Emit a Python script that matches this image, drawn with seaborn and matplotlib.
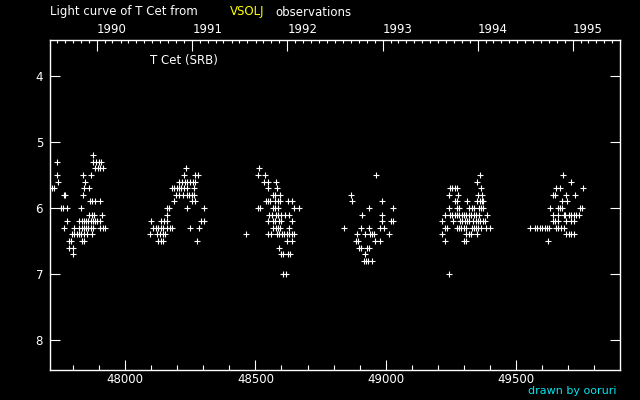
import numpy as np
import pandas as pd
import matplotlib
matplotlib.use("Agg")
import matplotlib.pyplot as plt
from matplotlib.ticker import MultipleLocator, FixedLocator
import seaborn as sns

# visual estimates: JD-2400000 and visual magnitude, one pair of lists per season
s1_jd = [47878,
         47740, 47878, 47889, 47899, 47909,
         47885, 47895, 47905, 47915,
         47740, 47840, 47871,
         47744, 47848,
         47718, 47727, 47844, 47863,
         47766, 47771, 47840,
         47864, 47874, 47884, 47905,
         47753, 47763, 47779, 47832,
         47863, 47872, 47881, 47913,
         47776, 47825, 47834, 47842, 47850, 47859, 47868, 47876, 47885, 47894, 47904,
         47767, 47805, 47825, 47834, 47842, 47850, 47859, 47868, 47878, 47904, 47914, 47923,
         47796, 47805, 47814, 47823, 47832, 47841, 47855, 47872,
         47785, 47794, 47834, 47844,
         47785, 47802,
         47802]
s1_mag = [5.2] + [5.3] * 5 + [5.4] * 4 + [5.5] * 3 + [5.6] * 2 + [5.7] * 4 + [5.8] * 3 + \
         [5.9] * 4 + [6.0] * 4 + [6.1] * 4 + [6.2] * 11 + [6.3] * 12 + [6.4] * 8 + \
         [6.5] * 4 + [6.6] * 2 + [6.7]

s2_jd = [48235,
         48228, 48270, 48279,
         48208, 48219, 48229, 48239, 48249, 48259, 48268,
         48180, 48189, 48198, 48207, 48216, 48225, 48238, 48266,
         48197, 48206, 48224, 48236, 48245, 48256, 48265,
         48189, 48258, 48267,
         48159, 48167, 48239, 48304,
         48162,
         48101, 48139, 48148, 48162, 48293, 48302,
         48109, 48118, 48127, 48136, 48144, 48162, 48173, 48181, 48251, 48285,
         48097, 48124, 48134, 48144, 48152,
         48128, 48137, 48146, 48277]
s2_mag = [5.4] + [5.5] * 3 + [5.6] * 7 + [5.7] * 8 + [5.8] * 7 + [5.9] * 3 + [6.0] * 4 + \
         [6.1] + [6.2] * 6 + [6.3] * 10 + [6.4] * 5 + [6.5] * 4

s3_jd = [48515,
         48511, 48538,
         48534, 48550, 48580,
         48550, 48584,
         48566, 48574, 48594,
         48541, 48548, 48557, 48577, 48585, 48594, 48626, 48642,
         48510, 48518, 48566, 48574, 48585, 48649, 48669,
         48554, 48562, 48579, 48588, 48597, 48612, 48630,
         48550, 48566, 48574, 48589, 48600, 48642,
         48569, 48578, 48585, 48594, 48630,
         48465, 48550, 48559, 48584, 48592, 48601, 48610, 48620, 48630, 48639, 48648,
         48623, 48642,
         48592,
         48600, 48607, 48624, 48632,
         48607, 48616]
s3_mag = [5.4] + [5.5] * 2 + [5.6] * 3 + [5.7] * 2 + [5.8] * 3 + [5.9] * 8 + [6.0] * 7 + \
         [6.1] * 7 + [6.2] * 6 + [6.3] * 5 + [6.4] * 11 + [6.5] * 2 + [6.6] + \
         [6.7] * 4 + [7.0] * 2

s4_jd = [48964,
         48868,
         48872, 48987,
         48937, 49029,
         48910, 48987,
         48987, 49020, 49028,
         48841, 48906, 48937, 48979, 48995,
         48891, 48922, 48938, 48949, 48956, 49014,
         48886, 48894, 48960, 48979,
         48899, 48906, 48927, 48935,
         48922,
         48918, 48926, 48933, 48949]
s4_mag = [5.5] + [5.8] + [5.9] * 2 + [6.0] * 2 + [6.1] * 2 + [6.2] * 3 + [6.3] * 5 + \
         [6.4] * 6 + [6.5] * 4 + [6.6] * 4 + [6.7] + [6.8] * 4

s5_jd = [49363,
         49352,
         49247, 49256, 49265, 49274, 49367,
         49244, 49279, 49355, 49371,
         49267, 49275, 49313, 49352, 49360, 49369, 49375,
         49244, 49275, 49281, 49321, 49330, 49337, 49359, 49367, 49375,
         49229, 49247, 49256, 49265, 49274, 49282, 49291, 49300, 49309, 49318, 49327,
         49339, 49348, 49357, 49390,
         49217, 49259, 49285, 49294, 49303, 49312, 49321, 49336, 49345, 49354, 49363,
         49372, 49381,
         49227, 49236, 49272, 49281, 49290, 49299, 49308, 49330, 49339, 49346, 49355,
         49364, 49383, 49401,
         49217, 49308, 49318, 49327, 49352,
         49229, 49302, 49307,
         49244]
s5_mag = [5.5] + [5.6] + [5.7] * 5 + [5.8] * 4 + [5.9] * 7 + [6.0] * 9 + [6.1] * 15 + \
         [6.2] * 13 + [6.3] * 14 + [6.4] * 5 + [6.5] * 3 + [7.0]

s6_jd = [49681,
         49712,
         49655, 49670, 49758,
         49643, 49651, 49693, 49727,
         49678, 49697,
         49631, 49662, 49670, 49678, 49747, 49754,
         49643, 49662, 49683, 49689, 49702, 49712, 49721, 49730, 49740,
         49643, 49651, 49660, 49693, 49712, 49721,
         49555, 49574, 49582, 49592, 49601, 49610, 49619, 49628, 49655, 49663, 49672, 49685,
         49693, 49702, 49712, 49721,
         49624]
s6_mag = [5.5] + [5.6] + [5.7] * 3 + [5.8] * 4 + [5.9] * 2 + [6.0] * 6 + [6.1] * 9 + \
         [6.2] * 6 + [6.3] * 12 + [6.4] * 4 + [6.5]

years = [1990, 1991, 1992, 1993, 1994, 1995]

df = pd.DataFrame({
    "jd": s1_jd + s2_jd + s3_jd + s4_jd + s5_jd + s6_jd,
    "mag": s1_mag + s2_mag + s3_mag + s4_mag + s5_mag + s6_mag,
})

sns.set_style("dark")
plt.rcParams.update({
    "figure.facecolor": "black",
    "axes.facecolor": "black",
    "axes.edgecolor": "white",
    "axes.linewidth": 1.0,
    "text.color": "white",
    "xtick.color": "white",
    "ytick.color": "white",
    "axes.grid": False,
})
plt.rcParams["font.family"] = ["DejaVu Sans"]

fig = plt.figure(figsize=(6.4, 4.0), dpi=100)
ax = fig.add_axes([50 / 640, 30 / 400, 570 / 640, 330 / 400])

sns.scatterplot(data=df, x="jd", y="mag", marker="+", color="white",
                s=16, linewidth=0.8, ax=ax, legend=False)

ax.set_xlim(47712, 49899)
ax.set_ylim(8.455, 3.455)
ax.set_xlabel("")
ax.set_ylabel("")

ax.xaxis.set_major_locator(MultipleLocator(500))
ax.xaxis.set_minor_locator(MultipleLocator(100))
ax.yaxis.set_major_locator(MultipleLocator(1))
ax.ticklabel_format(axis="x", useOffset=False, style="plain")
ax.tick_params(axis="x", which="major", direction="in", length=7.5, width=0.8,
               labelsize=8.5, pad=2, top=False)
ax.tick_params(axis="x", which="minor", direction="in", length=3.8, width=0.8, top=False)
ax.tick_params(axis="y", which="major", direction="in", length=7.5, width=0.8,
               labelsize=8.5, pad=5, left=True, right=True)

# top axis: calendar years, monthly minor ticks
jd0 = 2400000.0
year_jd = [pd.Timestamp(f"{y}-01-01").to_julian_date() - jd0 for y in years]
months = pd.date_range("1989-01-01", "1996-12-01", freq="MS")
month_jd = [m.to_julian_date() - jd0 for m in months]
top = ax.twiny()
top.set_xlim(ax.get_xlim())
top.xaxis.set_major_locator(FixedLocator(year_jd))
top.xaxis.set_minor_locator(FixedLocator(month_jd))
top.set_xticklabels([str(y) for y in years], ha="left")
top.tick_params(axis="x", which="major", direction="in", length=8, width=0.8,
                labelsize=8.5, pad=3)
top.tick_params(axis="x", which="minor", direction="in", length=2.5, width=0.8)
for sp in top.spines.values():
    sp.set_visible(False)

ax.text(100 / 570, 1 - 20 / 330, "T Cet (SRB)", transform=ax.transAxes,
        fontsize=8.5, color="white", va="center", ha="left")

fig.text(50 / 640, 1 - 12 / 400, "Light curve of T Cet from", fontsize=8.5,
         color="white", va="center", ha="left")
fig.text(230 / 640, 1 - 12 / 400, "VSOLJ", fontsize=8.5, color="#ffff00",
         va="center", ha="left")
fig.text(275 / 640, 1 - 12 / 400, "observations", fontsize=8.5, color="white",
         va="center", ha="left")
fig.text(617 / 640, 1 - 391 / 400, "drawn by ooruri", fontsize=8, color="#00e5ee",
         va="center", ha="right")

fig.savefig("out.png", dpi=100, facecolor="black")
